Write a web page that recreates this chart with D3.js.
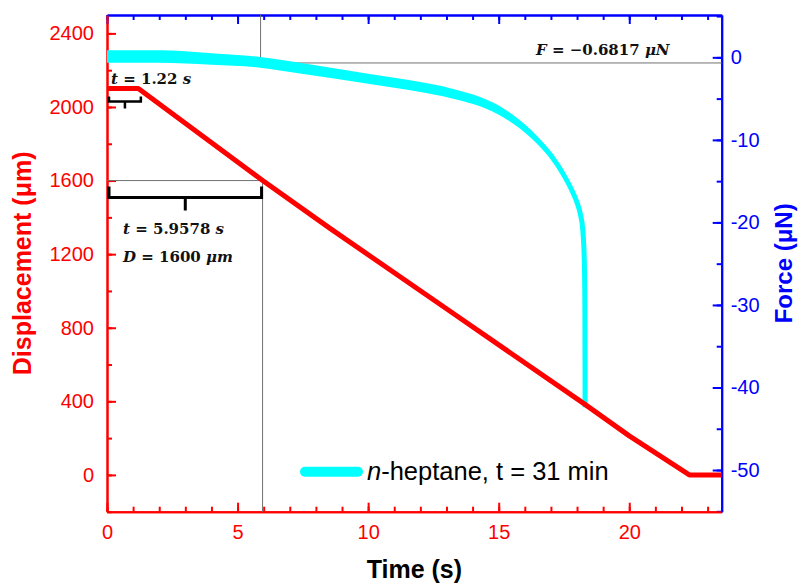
<!DOCTYPE html>
<html><head><meta charset="utf-8">
<script src="https://cdn.jsdelivr.net/npm/d3@7"></script>
<style>body{margin:0;background:#fff} svg{display:block}</style>
</head><body>
<svg id="chart" width="798" height="584"></svg>
<script>
// ---- data ----
const timeDisp = [0, 1.2, 5.96, 8.54, 13, 18.25, 20, 22.3, 23.54];
const displacement = [2100, 2100, 1600, 1340, 903, 389, 212, 0, 0];

const timeForce = [0, 2, 4, 5.86, 7.39, 10, 12, 13.1, 15, 16, 16.5, 17, 17.5, 17.8, 18.0, 18.12, 18.22, 18.28, 18.3, 18.31];
const force     = [0.1, 0.1, -0.2, -0.6, -1.3, -2.6, -3.6, -4.3, -6.4, -8.6, -10.1, -11.9, -14.3, -16.1, -17.6, -18.9, -20.9, -24.9, -30, -42.4];
const forceNoise = [0.75, 0.75, 0.7, 0.65, 0.65, 0.6, 0.6, 0.6, 0.55, 0.5, 0.45, 0.4, 0.35, 0.3, 0.25, 0.2, 0.1, 0, 0, 0];

const xTicks = [0, 5, 10, 15, 20];
const yLeftTicks = [0, 400, 800, 1200, 1600, 2000, 2400];
const yRightTicks = [0, -10, -20, -30, -40, -50];

const tStart = 1.22, tMark = 5.9578, dMark = 1600, fMark = -0.6817;
const legendLabel = ["n", "-heptane, t = 31 min"];

// ---- layout ----
const svg = d3.select("#chart");
const L = 107, R = 721.7, T = 15, B = 511.7;
const x = d3.scaleLinear([0, 23.54], [L, R]);
const yL = d3.scaleLinear([-200, 2500], [B, T]);
const yR = d3.scaleLinear([-55.05, 5.13], [B, T]);

const RED = "#ff0000", BLUE = "#0000ff", CYAN = "#00ffff";
const FONT = "'Liberation Sans', Arial, sans-serif";
const MATH = "'DejaVu Serif', 'Liberation Serif', serif";

function styleAxis(g, color) {
  g.select(".domain").attr("stroke", color).attr("stroke-width", 2);
  g.selectAll(".tick line").attr("stroke", color).attr("stroke-width", 2);
  g.selectAll(".tick text").attr("fill", color).style("font-family", FONT).style("font-size", "20px");
}
const range = (a, b, s) => d3.range(a, b + s / 2, s);

// minor ticks
svg.append("g").attr("transform", `translate(0,${B})`)
  .call(d3.axisBottom(x).tickValues(range(0, 23, 1)).tickFormat("").tickSize(-5).tickSizeOuter(0))
  .call(g => styleAxis(g, RED));
svg.append("g").attr("transform", `translate(0,${T})`)
  .call(d3.axisTop(x).tickValues(range(0, 23, 1)).tickFormat("").tickSize(-5).tickSizeOuter(0))
  .call(g => styleAxis(g, BLUE));
svg.append("g").attr("transform", `translate(${L},0)`)
  .call(d3.axisLeft(yL).tickValues(range(-200, 2400, 200)).tickFormat("").tickSize(-5).tickSizeOuter(0))
  .call(g => styleAxis(g, RED));
svg.append("g").attr("transform", `translate(${R},0)`)
  .call(d3.axisRight(yR).tickValues(range(-55, 5, 5)).tickFormat("").tickSize(-5).tickSizeOuter(0))
  .call(g => styleAxis(g, BLUE));

// major axes
svg.append("g").attr("transform", `translate(0,${B})`)
  .call(d3.axisBottom(x).tickValues(xTicks).tickFormat(d3.format("d")).tickSize(-9).tickPadding(13).tickSizeOuter(0))
  .call(g => styleAxis(g, RED));
svg.append("g").attr("transform", `translate(0,${T})`)
  .call(d3.axisTop(x).tickValues(xTicks).tickFormat("").tickSize(-9).tickSizeOuter(0))
  .call(g => styleAxis(g, BLUE));
svg.append("g").attr("transform", `translate(${L},0)`)
  .call(d3.axisLeft(yL).tickValues(yLeftTicks).tickFormat(d3.format("d")).tickSize(-9).tickPadding(13).tickSizeOuter(0))
  .call(g => styleAxis(g, RED));
svg.append("g").attr("transform", `translate(${R},0)`)
  .call(d3.axisRight(yR).tickValues(yRightTicks).tickFormat(d => String(d)).tickSize(-9).tickPadding(9).tickSizeOuter(0))
  .call(g => styleAxis(g, BLUE));

// guide lines
const guide = svg.append("g").attr("stroke", "#707070").attr("stroke-width", 1).attr("fill", "none");
guide.append("line").attr("x1", L).attr("x2", x(tMark)).attr("y1", yL(dMark)).attr("y2", yL(dMark));
guide.append("line").attr("x1", x(tMark)).attr("x2", x(tMark)).attr("y1", yL(dMark)).attr("y2", B);
guide.append("line").attr("x1", x(tMark) - 2).attr("x2", x(tMark) - 2).attr("y1", T).attr("y2", yR(fMark));
guide.append("line").attr("x1", x(tMark) - 2).attr("x2", R).attr("y1", yR(fMark)).attr("y2", yR(fMark));

// force data
const fData = timeForce.map((t, i) => ({ t, f: force[i], n: forceNoise[i] }));
svg.append("path").datum(fData)
  .attr("fill", CYAN)
  .attr("d", d3.area().x(d => x(d.t)).y0(d => yR(d.f - d.n)).y1(d => yR(d.f + d.n)).curve(d3.curveMonotoneX));
svg.append("path").datum(fData)
  .attr("fill", "none").attr("stroke", CYAN).attr("stroke-width", 5)
  .attr("d", d3.line().x(d => x(d.t)).y(d => yR(d.f)).curve(d3.curveMonotoneX));

// displacement data
const dData = timeDisp.map((t, i) => ({ t, d: displacement[i] }));
svg.append("path").datum(dData)
  .attr("fill", "none").attr("stroke", RED).attr("stroke-width", 5).attr("stroke-linejoin", "round")
  .attr("d", d3.line().x(d => x(d.t)).y(d => yL(d.d)));

// braces
function brace(x1, x2, yTop, yBar, yTip, w) {
  const xm = (x1 + x2) / 2;
  svg.append("path").attr("fill", "none").attr("stroke", "#000").attr("stroke-width", w)
    .attr("d", `M${x1},${yTop}V${yBar}H${x2}V${yTop}M${xm},${yBar}V${yTip}`);
}
brace(x(0) + 2, x(tStart) + 2, yL(2100) + 8, yL(2100) + 13, yL(2100) + 20, 2.5);
brace(x(0) + 2, x(tMark) - 1, yL(dMark) + 6, yL(dMark) + 17, yL(dMark) + 30, 3);

// math annotations
function mathText(xp, yp, parts) {
  const t = svg.append("text").attr("x", xp).attr("y", yp)
    .style("font-family", MATH).style("font-size", "15px").style("font-weight", "bold")
    .attr("fill", "#111");
  parts.forEach(([s, it]) => t.append("tspan").text(s).style("font-style", it ? "italic" : "normal"));
}
mathText(111, 84, [["t", 1], [" = " + tStart.toFixed(2) + " ", 0], ["s", 1]]);
mathText(123, 234, [["t", 1], [" = " + tMark + " ", 0], ["s", 1]]);
mathText(123, 262, [["D", 1], [" = " + dMark + " ", 0], ["μm", 1]]);
mathText(536, 55, [["F", 1], [" = \u2212" + Math.abs(fMark) + " ", 0], ["μN", 1]]);

// legend
svg.append("line").attr("x1", 305).attr("x2", 358).attr("y1", 471.7).attr("y2", 471.7)
  .attr("stroke", CYAN).attr("stroke-width", 10).attr("stroke-linecap", "round");
const lt = svg.append("text").attr("x", 367).attr("y", 480)
  .style("font-family", FONT).style("font-size", "25.5px").attr("fill", "#000");
lt.append("tspan").text(legendLabel[0]).style("font-style", "italic");
lt.append("tspan").text(legendLabel[1]);

// axis titles
svg.append("text").attr("x", (L + R) / 2).attr("y", 578).attr("text-anchor", "middle")
  .style("font-family", FONT).style("font-size", "25px").style("font-weight", "bold").attr("fill", "#000")
  .text("Time (s)");
svg.append("text").attr("transform", `translate(31,${(T + B) / 2}) rotate(-90)`).attr("text-anchor", "middle")
  .style("font-family", FONT).style("font-size", "25px").style("font-weight", "bold").attr("fill", RED)
  .text("Displacement (μm)");
svg.append("text").attr("transform", `translate(792,${(T + B) / 2}) rotate(-90)`).attr("text-anchor", "middle")
  .style("font-family", FONT).style("font-size", "24px").style("font-weight", "bold").attr("fill", BLUE)
  .text("Force (μN)");
</script>
</body></html>
